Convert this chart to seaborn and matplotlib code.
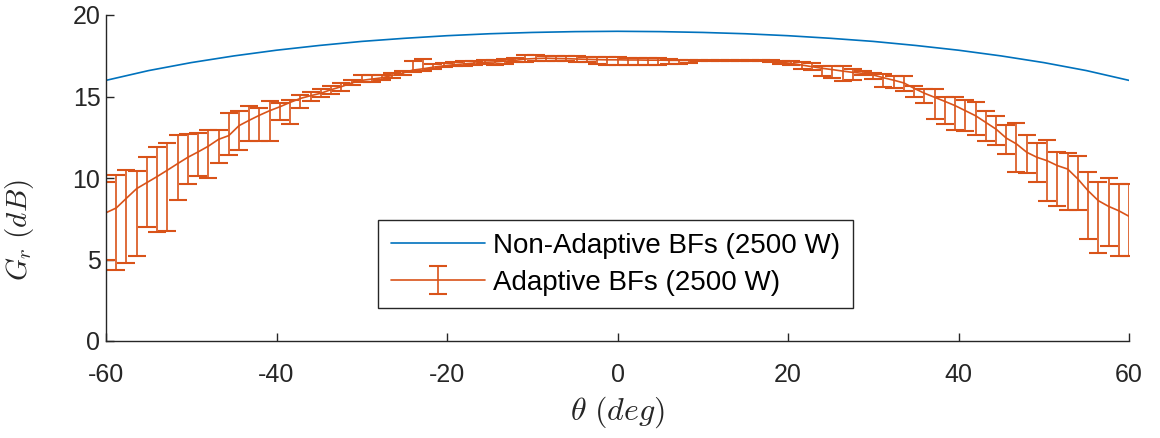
import numpy as np
import pandas as pd
import matplotlib
matplotlib.use("Agg")
import matplotlib.pyplot as plt
import seaborn as sns

# ---- data ----
# Non-adaptive beamformer gain (dB) vs steering angle (deg)
theta_na = [-60, -55, -50, -45, -40, -35, -30, -25, -20, -15, -10, -5, 0,
            5, 10, 15, 20, 25, 30, 35, 40, 45, 50, 55, 60]
gain_na = [15.99, 16.59, 17.08, 17.49, 17.84, 18.13, 18.38, 18.57, 18.73, 18.85, 18.93, 18.98, 19.00,
           18.98, 18.93, 18.85, 18.73, 18.57, 18.38, 18.13, 17.84, 17.49, 17.08, 16.59, 15.99]

# Adaptive beamformer: angles (deg), mean gain, lower and upper limits (dB)
theta_ad = [round(-60 + 1.2 * i, 1) for i in range(101)]
gain_mean = [7.87, 8.16, 8.76, 9.35, 9.72, 10.09, 10.48, 10.88, 11.27, 11.60,
             11.95, 12.37, 12.60, 13.21, 13.54, 13.85, 14.13, 14.37, 14.64, 14.88,
             15.05, 15.20, 15.42, 15.60, 15.83, 15.99, 16.07, 16.15, 16.30, 16.44,
             16.62, 16.70, 16.80, 16.88, 16.95, 17.00, 17.05, 17.10, 17.12, 17.17,
             17.22, 17.30, 17.33, 17.35, 17.33, 17.32, 17.30, 17.28, 17.26, 17.25,
             17.25, 17.24, 17.24, 17.23, 17.23, 17.22, 17.22, 17.22, 17.22, 17.22,
             17.22, 17.22, 17.22, 17.21, 17.19, 17.16, 17.10, 17.03, 16.93, 16.83,
             16.73, 16.65, 16.56, 16.48, 16.42, 16.32, 16.15, 16.00, 15.83, 15.50,
             15.20, 14.95, 14.70, 14.44, 14.13, 13.82, 13.41, 13.00, 12.45, 12.09,
             11.58, 11.27, 11.06, 10.76, 10.55, 9.94, 9.22, 8.61, 8.26, 7.99,
             7.65]
gain_low = [5.00, 4.35, 4.78, 5.22, 7.01, 6.66, 6.73, 8.68, 9.66, 10.10,
            10.03, 10.94, 11.44, 11.74, 12.30, 12.28, 12.25, 13.56, 13.34, 14.28,
            14.74, 14.99, 15.17, 15.32, 15.70, 15.87, 15.91, 16.00, 16.15, 16.30,
            16.52, 16.55, 16.69, 16.79, 16.85, 16.89, 16.93, 16.98, 16.95, 17.01,
            17.09, 17.13, 17.20, 17.18, 17.18, 17.15, 17.13, 17.10, 16.97, 16.95,
            16.95, 16.95, 16.95, 16.95, 16.95, 17.00, 17.01, 17.07, 17.18, 17.19,
            17.19, 17.19, 17.19, 17.18, 17.16, 17.09, 16.97, 16.93, 16.69, 16.60,
            16.24, 16.13, 15.97, 16.01, 16.34, 16.07, 15.60, 15.50, 15.32, 14.95,
            14.60, 13.62, 13.29, 12.96, 12.90, 12.64, 12.29, 12.04, 11.47, 10.39,
            10.29, 9.73, 8.61, 8.30, 8.06, 8.06, 6.26, 5.40, 5.85, 5.23,
            5.23]
gain_high = [9.73, 10.19, 10.52, 10.45, 11.31, 11.92, 12.13, 12.65, 12.67, 12.76,
             12.95, 12.95, 13.97, 14.13, 14.44, 14.29, 14.70, 14.62, 14.80, 15.09,
             15.27, 15.46, 15.66, 15.83, 16.00, 16.34, 16.34, 16.30, 16.45, 16.55,
             17.15, 17.30, 17.00, 17.03, 17.10, 17.15, 17.20, 17.24, 17.24, 17.30,
             17.36, 17.55, 17.55, 17.50, 17.50, 17.50, 17.50, 17.45, 17.40, 17.40,
             17.40, 17.34, 17.34, 17.34, 17.38, 17.30, 17.26, 17.26, 17.26, 17.25,
             17.25, 17.25, 17.25, 17.24, 17.22, 17.26, 17.20, 17.18, 17.09, 17.05,
             16.89, 16.89, 16.89, 16.69, 16.55, 16.42, 16.40, 16.24, 16.24, 15.66,
             15.46, 15.46, 14.99, 14.99, 14.79, 14.68, 14.13, 13.78, 13.25, 13.35,
             12.66, 12.13, 12.33, 11.58, 11.51, 11.37, 10.39, 9.73, 10.00, 9.63,
             9.63]

x_ticks = [-60, -40, -20, 0, 20, 40, 60]
y_ticks = [0, 5, 10, 15, 20]
label_na = "Non-Adaptive BFs (2500 W)"
label_ad = "Adaptive BFs (2500 W)"

BLUE = "#0072BD"
ORANGE = "#D95319"
AXC = "#262626"

sns.set_theme(style="white")
plt.rcParams["font.family"] = ["Liberation Sans", "DejaVu Sans"]
plt.rcParams["mathtext.fontset"] = "cm"
plt.rcParams["axes.unicode_minus"] = False

fig = plt.figure(figsize=(11.6, 4.38), dpi=100)
ax = fig.add_axes([106 / 1160, 1 - 341 / 438, (1129 - 106) / 1160, (341 - 15) / 438])

df_na = pd.DataFrame({"theta": theta_na, "gain": gain_na})
sns.lineplot(data=df_na, x="theta", y="gain", color=BLUE, lw=1.2, ax=ax, label=label_na)

mean = np.array(gain_mean)
yerr = np.vstack([mean - np.array(gain_low), np.array(gain_high) - mean])
ax.errorbar(theta_ad, gain_mean, yerr=yerr, color=ORANGE, lw=1.2, elinewidth=1.2,
            capsize=6.5, capthick=1.5, label=label_ad)

ax.set_xlim(-60, 60)
ax.set_ylim(0, 20)
ax.set_xticks(x_ticks)
ax.set_yticks(y_ticks)
ax.tick_params(direction="in", length=6, width=1, colors=AXC, labelsize=18,
               bottom=True, left=True)
ax.tick_params(axis="x", pad=16)
ax.tick_params(axis="y", pad=4)
for s in ["top", "right"]:
    ax.spines[s].set_visible(False)
for s in ["left", "bottom"]:
    ax.spines[s].set_color(AXC)
    ax.spines[s].set_linewidth(1.0)

ax.set_xlabel(r"$\theta\ (deg)$", fontsize=23, color=AXC)
ax.set_ylabel(r"$G_r\ (dB)$", fontsize=21, color=AXC)
ax.xaxis.set_label_coords(0.5, -(395 - 341) / 326, transform=ax.transAxes)
ax.yaxis.set_label_coords((36 - 106) / 1023, (341 - 230) / 326, transform=ax.transAxes)

handles, labels = ax.get_legend_handles_labels()
order = [labels.index(label_na), labels.index(label_ad)]
leg = ax.legend([handles[i] for i in order], [labels[i] for i in order],
                loc="lower left", bbox_to_anchor=(0.266, 0.10), fontsize=20,
                handlelength=3.4, frameon=True, fancybox=False, framealpha=1,
                edgecolor=AXC, borderpad=0.45, labelspacing=0.4, handletextpad=0.3,
                borderaxespad=0)
leg.get_frame().set_linewidth(1.0)
for t in leg.get_texts():
    t.set_color("black")

fig.savefig("out.png", dpi=100)
